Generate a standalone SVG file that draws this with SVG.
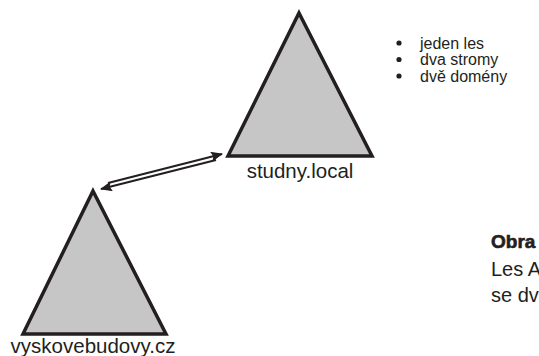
<svg xmlns="http://www.w3.org/2000/svg" width="539" height="356" viewBox="0 0 539 356">
  <style>
    .tree { fill: #c6c6c6; stroke: #231f20; stroke-width: 3.5; stroke-linejoin: miter; }
    .label { font-family: "Liberation Sans", Arial, sans-serif; font-size: 20.5px; fill: #231f20; }
    .list { font-family: "Liberation Sans", Arial, sans-serif; font-size: 16px; fill: #231f20; }
    .cap { font-family: "Liberation Sans", Arial, sans-serif; font-size: 20px; fill: #231f20; }
    .bold { font-family: "Liberation Sans", Arial, sans-serif; font-size: 19px; font-weight: bold; fill: #231f20; stroke: #231f20; stroke-width: 0.6; }
    .link { stroke: #231f20; stroke-width: 2; fill: none; }
  </style>
  <defs>
    <marker id="head" viewBox="0 0 12 10" refX="11" refY="5" markerWidth="12" markerHeight="10" markerUnits="userSpaceOnUse" orient="auto">
      <path d="M0,0 L12,5 L0,10 L2,5 Z" fill="#231f20"/>
    </marker>
  </defs>
  <rect width="539" height="356" fill="#ffffff"/>

  <g id="connectors">
    <line class="link" x1="108" y1="183" x2="222" y2="154" marker-end="url(#head)"/>
    <line class="link" x1="216" y1="160" x2="101" y2="189" marker-end="url(#head)"/>
  </g>

  <g id="studny-local">
    <polygon class="tree" points="299,13 372,156 228,156"/>
    <text class="label" x="300" y="178" text-anchor="middle">studny.local</text>
  </g>

  <g id="vyskovebudovy-cz">
    <polygon class="tree" points="93,191 166,334 23,334"/>
    <text class="label" x="93" y="353" text-anchor="middle">vyskovebudovy.cz</text>
  </g>

  <g id="facts">
    <circle cx="399" cy="43" r="2.6" fill="#231f20"/>
    <text class="list" x="420" y="48.5">jeden les</text>
    <circle cx="399" cy="59.5" r="2.6" fill="#231f20"/>
    <text class="list" x="420" y="65">dva stromy</text>
    <circle cx="399" cy="76" r="2.6" fill="#231f20"/>
    <text class="list" x="420" y="81.5">dvě domény</text>
  </g>

  <g id="caption">
    <text class="bold" x="491" y="248">Obra</text>
    <text class="cap" x="491" y="276">Les A</text>
    <text class="cap" x="491" y="302">se dv</text>
  </g>
</svg>
